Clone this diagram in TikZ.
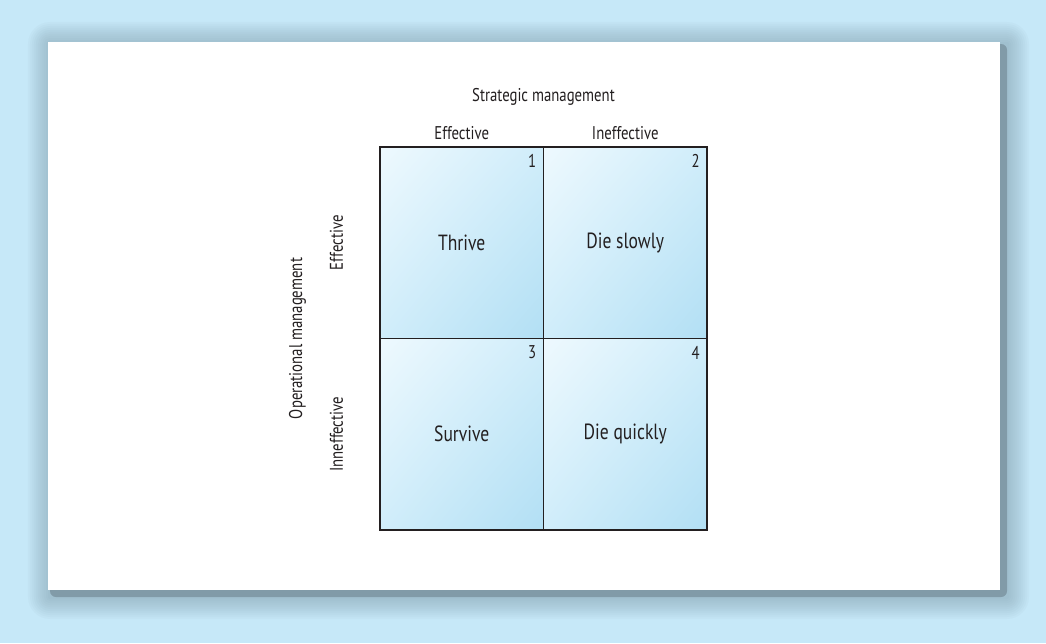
\documentclass[tikz,border=0pt]{standalone}
\usepackage{fontspec}
\setmainfont{PT Sans}[FakeStretch=0.8]
\usepackage{xcolor}
\usetikzlibrary{positioning, shadings}
\definecolor{bgblue}{HTML}{C6E8F8}
\definecolor{shadowcol}{HTML}{6F8A98}
\definecolor{shadowcore}{HTML}{819BA8}
\definecolor{celllight}{HTML}{EEF9FE}
\definecolor{cellmid}{HTML}{D0EDFA}
\definecolor{celldark}{HTML}{B2DFF4}
\definecolor{ink}{HTML}{231F20}
\tikzstyle{cell} = [rectangle, minimum width=3.27cm, minimum height=3.83cm, outer sep=0pt, draw=ink, line width=0.9pt, shade, upper left=celllight, upper right=cellmid, lower left=cellmid, lower right=celldark]
\tikzstyle{quad} = [text=ink, font=\fontsize{12.5}{15}\selectfont]
\tikzstyle{num} = [anchor=north east, inner sep=4pt, text=ink, font=\fontsize{10.5}{12}\selectfont]
\tikzstyle{axis} = [text=ink, inner sep=2pt, font=\fontsize{10.5}{13}\selectfont]

\begin{document}
\begin{tikzpicture}[node distance=0pt]
	% page, shadow and card
	\fill [bgblue] (0,0) rectangle (20.92,12.86);
	\useasboundingbox (0,0) rectangle (20.92,12.86);
	\foreach \d in {0.04,0.08,...,0.48}
		\fill [shadowcol, opacity=0.045, rounded corners=\d cm] (1.0-\d,0.92-\d) rectangle (20.14+\d,11.98+\d);
	\fill [shadowcore, rounded corners=0.12cm] (1.0,0.92) rectangle (20.14,11.98);
	\fill [white] (0.96,1.06) rectangle (20.0,12.02);

	% the four quadrants
	\node (c1) [cell, anchor=north west] at (7.6,9.92) {};
	\node (c2) [cell, right=of c1] {};
	\node (c3) [cell, below=of c1] {};
	\node (c4) [cell, right=of c3] {};

	\node (t1) [quad] at (c1.center) {Thrive};
	\node (t2) [quad] at (c2.center) {Die slowly};
	\node (t3) [quad] at (c3.center) {Survive};
	\node (t4) [quad] at (c4.center) {Die quickly};

	\node (n1) [num] at (c1.north east) {1};
	\node (n2) [num] at (c2.north east) {2};
	\node (n3) [num] at (c3.north east) {3};
	\node (n4) [num] at (c4.north east) {4};

	% axis labels
	\node (topeff) [axis, above=2pt of c1] {Effective};
	\node (topineff) [axis, above=2pt of c2] {Ineffective};
	\node (strat) [axis, above=0.75cm of c1.north east] {Strategic management};
	\node (lefteff) [axis, rotate=90, anchor=south] at ([xshift=-0.66cm]c1.west) {Effective};
	\node (leftineff) [axis, rotate=90, anchor=south] at ([xshift=-0.66cm]c3.west) {Inneffective};
	\node (oper) [axis, rotate=90, anchor=south] at ([xshift=-1.40cm]c1.south west) {Operational management};
\end{tikzpicture}
\end{document}
